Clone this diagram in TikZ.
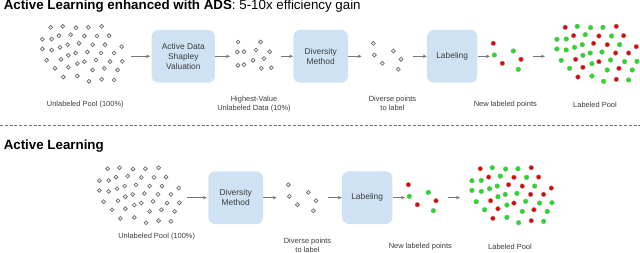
\documentclass[tikz,border=0pt]{standalone}
\usepackage{fontspec}
\setmainfont{Liberation Sans}
\usepackage{xcolor}
\usepackage{tikz}
\usetikzlibrary{arrows.meta}
\definecolor{boxblue}{RGB}{207,226,243}
\definecolor{ptred}{RGB}{232,0,0}
\definecolor{ptgreen}{RGB}{20,232,20}
\definecolor{ringgray}{RGB}{110,110,110}
\definecolor{arrgray}{RGB}{120,120,120}
\definecolor{txtgray}{RGB}{60,60,60}

% dot layouts (x/y in third-pixel units, colour used by labeled sets)
\newcommand{\pooldots}{47/22/ptred,83/19/ptgreen,123/23/ptgreen,160/22/ptgreen,200/19/ptred,
  22/58/ptgreen,50/57/ptgreen,72/47/ptred,107/44/ptgreen,148/48/ptred,186/48/ptgreen,222/47/ptred,
  22/87/ptgreen,50/90/ptgreen,75/82/ptgreen,98/74/ptgreen,132/70/ptred,173/74/ptred,210/74/ptgreen,260/80/ptred,
  237/99/ptred,198/99/ptred,157/96/ptgreen,122/99/ptgreen,100/106/ptgreen,
  78/118/ptred,35/121/ptgreen,127/131/ptgreen,148/125/ptred,183/120/ptgreen,225/125/ptgreen,262/124/ptgreen,
  60/145/ptgreen,100/142/ptred,173/150/ptgreen,208/145/ptred,248/150/ptgreen,
  85/171/ptred,127/168/ptgreen,162/184/ptgreen,200/178/ptred,237/180/ptgreen}
\newcommand{\topdots}{30/18,98/18,28/48,48/47,84/42,125/47,30/88,48/86,75/73,108/68,100/97,130/95}
\newcommand{\fewdots}{25/22/ptred,28/57/ptgreen,85/45/ptgreen,52/82/ptred,108/70/ptred,100/100/ptgreen}

\begin{document}
\begin{tikzpicture}[x=0.75pt,y=-0.75pt,
  box/.style={rectangle,rounded corners=5pt,fill=boxblue,minimum height=39.5pt,
              align=center,text=txtgray,font=\fontsize{6.3}{7.3}\selectfont},
  lbl/.style={align=center,text=txtgray,font=\fontsize{5.6}{6.75}\selectfont},
  ttl/.style={anchor=base west,inner sep=0pt,font=\fontsize{10}{12}\selectfont},
  arr/.style={-{Stealth[length=3pt,width=2.6pt]},line width=0.6pt,draw=arrgray},
  ring/.style={draw=ringgray,line width=0.55pt},
  pt/.style={draw=ringgray!70,line width=0.3pt}]
\useasboundingbox (0,0) rectangle (640,253);

% ---- top: active learning with ADS
\node[ttl] (ttl1) at (3.5,9.8) {\textbf{Active Learning enhanced with ADS}: 5-10x efficiency gain};

\begin{scope}[shift={(35,20)},x=0.25pt,y=-0.25pt]
  \foreach \dx/\dy/\c in \pooldots {\draw[ring] (\dx,\dy) circle[radius=1.45pt];}
\end{scope}
\begin{scope}[shift={(228,36)},x=0.25pt,y=-0.25pt]
  \foreach \dx/\dy in \topdots {\draw[ring] (\dx,\dy) circle[radius=1.45pt];}
\end{scope}
\begin{scope}[shift={(365,36)},x=0.25pt,y=-0.25pt]
  \foreach \dx/\dy/\c in \fewdots {\draw[ring] (\dx,\dy) circle[radius=1.45pt];}
\end{scope}
\begin{scope}[shift={(485,36)},x=0.25pt,y=-0.25pt]
  \foreach \dx/\dy/\c in \fewdots {\filldraw[pt,fill=\c] (\dx,\dy) circle[radius=1.75pt];}
\end{scope}
\begin{scope}[shift={(549.6,20)},x=0.25pt,y=-0.25pt]
  \foreach \dx/\dy/\c in \pooldots {\filldraw[pt,fill=\c] (\dx,\dy) circle[radius=1.75pt];}
\end{scope}

\node[box,minimum width=47.5pt] (ads) at (183.3,56.3) {Active Data\\Shapley\\Valuation};
\node[box,minimum width=41pt] (div) at (320.7,56.3) {Diversity\\Method};
\node[box,minimum width=37.7pt] (lab) at (452.2,56.3) {Labeling};

\coordinate (pool-out) at (131,56.3);
\coordinate (hv-in) at (230,56.3);
\coordinate (hv-out) at (281,56.3);
\coordinate (dp-in) at (361.7,56.3);
\coordinate (dp-out) at (413,56.3);
\coordinate (nl-in) at (490,56.3);
\coordinate (nl-out) at (533.3,56.3);
\coordinate (lp-in) at (545,56.3);
\draw[arr,shorten >=1pt] (pool-out)--(ads); \draw[arr] (ads)--(hv-in);
\draw[arr] (hv-out)--(div); \draw[arr] (div)--(dp-in);
\draw[arr] (dp-out)--(lab); \draw[arr] (lab)--(nl-in);
\draw[arr] (nl-out)--(lp-in);

\node[lbl] (l-pool) at (85.3,105) {Unlabeled Pool (100\%)};
\node[lbl] (l-hv) at (254,104.5) {Highest-Value\\Unlabeled Data (10\%)};
\node[lbl] (l-dp) at (392.5,103.8) {Diverse points\\to label};
\node[lbl] (l-nl) at (505.3,105) {New labeled points};
\node[lbl] (l-lp) at (595,105) {Labeled Pool};

% ---- separator
\coordinate (sep-l) at (0,125);
\coordinate (sep-r) at (640,125);
\draw[draw=arrgray,line width=0.6pt,dash pattern=on 2.2pt off 1.4pt] (sep-l)--(sep-r);

% ---- bottom: plain active learning
\node[ttl] (ttl2) at (3.5,149.3) {\textbf{Active Learning}};

\begin{scope}[shift={(92,161.4)},x=0.25pt,y=-0.25pt]
  \foreach \dx/\dy/\c in \pooldots {\draw[ring] (\dx,\dy) circle[radius=1.45pt];}
\end{scope}
\begin{scope}[shift={(280,177.4)},x=0.25pt,y=-0.25pt]
  \foreach \dx/\dy/\c in \fewdots {\draw[ring] (\dx,\dy) circle[radius=1.45pt];}
\end{scope}
\begin{scope}[shift={(400,177.4)},x=0.25pt,y=-0.25pt]
  \foreach \dx/\dy/\c in \fewdots {\filldraw[pt,fill=\c] (\dx,\dy) circle[radius=1.75pt];}
\end{scope}
\begin{scope}[shift={(464.6,161.4)},x=0.25pt,y=-0.25pt]
  \foreach \dx/\dy/\c in \pooldots {\filldraw[pt,fill=\c] (\dx,\dy) circle[radius=1.75pt];}
\end{scope}

\node[box,minimum width=41pt] (div2) at (235.7,197.7) {Diversity\\Method};
\node[box,minimum width=37.7pt] (lab2) at (367.2,197.7) {Labeling};

\coordinate (pool2-out) at (187,197.7);
\coordinate (dp2-in) at (276.7,197.7);
\coordinate (dp2-out) at (328,197.7);
\coordinate (nl2-in) at (405,197.7);
\coordinate (nl2-out) at (448.3,197.7);
\coordinate (lp2-in) at (460,197.7);
\draw[arr,shorten >=1pt] (pool2-out)--(div2); \draw[arr] (div2)--(dp2-in);
\draw[arr] (dp2-out)--(lab2); \draw[arr] (lab2)--(nl2-in);
\draw[arr] (nl2-out)--(lp2-in);

\node[lbl] (l-pool2) at (156.7,236.7) {Unlabeled Pool (100\%)};
\node[lbl] (l-dp2) at (307.5,245.2) {Diverse points\\to label};
\node[lbl] (l-nl2) at (420.3,246.4) {New labeled points};
\node[lbl] (l-lp2) at (510,246.4) {Labeled Pool};
\end{tikzpicture}
\end{document}
